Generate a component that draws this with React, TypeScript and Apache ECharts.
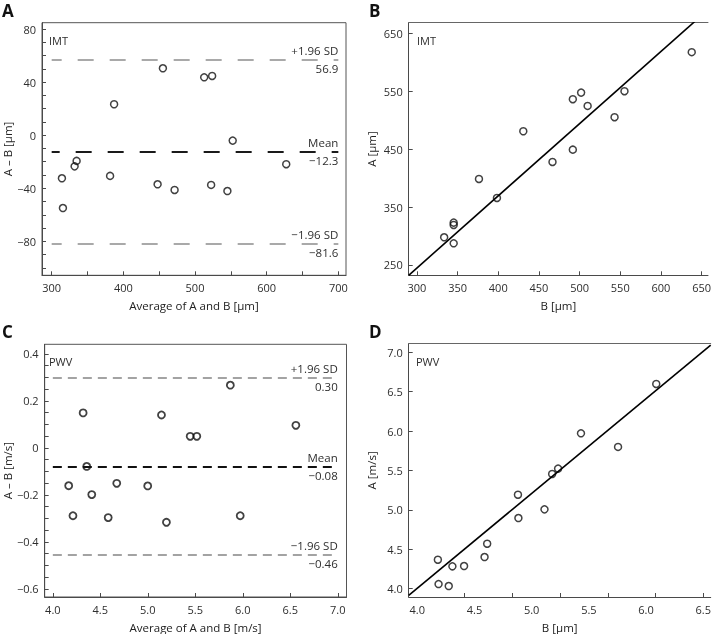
import { useEffect, useRef } from "react";
import * as echarts from "echarts";

// ---------- Panel A: IMT Bland–Altman ----------
const imtAvg = [314.3, 315.7, 332.0, 334.8, 381.5, 387.1, 447.8, 455.2, 471.5, 512.8, 523.9, 522.5, 545.2, 552.6, 627.3];
const imtDiff = [-32.5, -54.9, -23.5, -19.4, -30.7, 23.3, -37.0, 50.4, -41.3, 43.6, 44.6, -37.5, -42.1, -4.1, -21.9];
const imtLimitValues = [56.9, -12.3, -81.6];
const imtLimitLabels = ["56.9", "\u221212.3", "\u221281.6"];
const limitNames = ["+1.96 SD", "Mean", "\u22121.96 SD"];
const aXTicks = [300, 350, 400, 450, 500, 550, 600, 650, 700];
const aXLabels = [300, 400, 500, 600, 700];
const aYTicks = [-100, -90, -80, -70, -60, -50, -40, -30, -20, -10, 0, 10, 20, 30, 40, 50, 60, 70, 80];
const aYLabels = [-80, -40, 0, 40, 80];

// ---------- Panel B: IMT A vs B ----------
const imtB = [333.5, 345.2, 345.2, 345.2, 376.3, 398.4, 430.8, 466.7, 491.7, 491.7, 501.9, 509.9, 543.0, 555.2, 637.9];
const imtA = [297.8, 323.1, 319.1, 287.4, 398.5, 365.7, 480.9, 427.9, 536.2, 449.1, 547.6, 524.6, 505.1, 550.0, 617.4];
const imtFit = [1.2457, -128.9]; // slope, intercept
const bXTicks = [300, 350, 400, 450, 500, 550, 600, 650];
const bXLabels = [300, 350, 400, 450, 500, 550, 600, 650];
const bYTicks = [250, 350, 450, 550, 650];
const bYLabels = [250, 350, 450, 550, 650];

// ---------- Panel C: PWV Bland–Altman ----------
const pwvAvg = [4.167, 4.212, 4.319, 4.357, 4.41, 4.583, 4.673, 4.999, 5.144, 5.196, 5.446, 5.516, 5.869, 5.973, 6.559];
const pwvDiff = [-0.161, -0.289, 0.149, -0.079, -0.199, -0.297, -0.151, -0.162, 0.14, -0.317, 0.049, 0.049, 0.267, -0.289, 0.096];
const pwvLimitValues = [0.3, -0.08, -0.455];
const pwvLimitLabels = ["0.30", "\u22120.08", "\u22120.46"];
const cXTicks = [4.0, 4.5, 5.0, 5.5, 6.0, 6.5, 7.0];
const cXLabels = [4.0, 4.5, 5.0, 5.5, 6.0, 6.5, 7.0];
const cYTicks = [-0.6, -0.55, -0.5, -0.45, -0.4, -0.35, -0.3, -0.25, -0.2, -0.15, -0.1, -0.05, 0, 0.05, 0.1, 0.15, 0.2, 0.25, 0.3, 0.35, 0.4];
const cYLabels = [-0.6, -0.4, -0.2, 0, 0.2, 0.4];

// ---------- Panel D: PWV A vs B ----------
const pwvB = [4.18, 4.186, 4.275, 4.307, 4.409, 4.588, 4.611, 4.88, 4.884, 5.112, 5.179, 5.231, 5.431, 5.755, 6.089];
const pwvA = [4.368, 4.059, 4.034, 4.284, 4.288, 4.402, 4.571, 5.193, 4.897, 5.007, 5.456, 5.524, 5.972, 5.799, 6.598];
const pwvFit = [1.203, -0.806]; // slope, intercept
const dXTicks = [4.41, 4.83, 5.25, 5.67, 6.08, 6.5];
const dXLabels = [4.0, 4.5, 5.0, 5.5, 6.0, 6.5];
const dYTicks = [4.0, 4.5, 5.0, 5.5, 6.0, 6.5, 7.0];
const dYLabels = [4.0, 4.5, 5.0, 5.5, 6.0, 6.5, 7.0];

const FONT = '"Open Sans", "Noto Sans", sans-serif';
const TEXT = "#2e2e2e";
const AXIS = "#4a4a4a";

const minus = (s: string) => s.replace("-", "\u2212");

function xAx(gridIndex: number, min: number, max: number, ticks: number[], labels: number[], fmt: (v: number) => string, name: string) {
  return {
    type: "value",
    gridIndex,
    min,
    max,
    position: "bottom",
    name,
    nameLocation: "middle",
    nameGap: 24,
    nameTextStyle: { fontFamily: FONT, fontSize: 11.5, color: "#222" },
    axisLine: { show: true, onZero: false, lineStyle: { color: AXIS, width: 1 } },
    axisTick: { show: true, inside: true, length: 4, customValues: ticks, lineStyle: { color: AXIS, width: 1 } },
    axisLabel: { show: true, customValues: labels, formatter: fmt, fontFamily: FONT, fontSize: 11, color: TEXT, margin: 7 },
    splitLine: { show: false },
  };
}

function yAx(gridIndex: number, min: number, max: number, ticks: number[], labels: number[], fmt: (v: number) => string, name: string, nameGap: number) {
  return {
    type: "value",
    gridIndex,
    min,
    max,
    position: "left",
    name,
    nameLocation: "middle",
    nameGap,
    nameTextStyle: { fontFamily: FONT, fontSize: 11.5, color: "#222" },
    axisLine: { show: true, onZero: false, lineStyle: { color: AXIS, width: 1 } },
    axisTick: { show: true, inside: true, length: 4, customValues: ticks, lineStyle: { color: AXIS, width: 1 } },
    axisLabel: { show: true, customValues: labels, formatter: fmt, fontFamily: FONT, fontSize: 11, color: TEXT, margin: 6 },
    splitLine: { show: false },
  };
}

function topAx(gridIndex: number, min: number, max: number) {
  return {
    type: "value",
    gridIndex,
    min,
    max,
    position: "top",
    axisLine: { show: true, onZero: false, lineStyle: { color: "#666", width: 1 } },
    axisTick: { show: false },
    axisLabel: { show: false },
    splitLine: { show: false },
  };
}

const pointStyle = (w: number) => ({ color: "rgba(0,0,0,0)", borderColor: "#111", borderWidth: w });

function limitMarks(values: number[], labels: string[], x0: number, x1: number, styles: any[]) {
  const data: any[] = [];
  const lbl = { fontFamily: FONT, fontSize: 11.5, color: TEXT, distance: [0, 3] };
  values.forEach((v, i) => {
    data.push([
      { coord: [x0, v], lineStyle: styles[i], label: { show: true, position: "insideEndTop", formatter: limitNames[i], ...lbl } },
      { coord: [x1, v] },
    ]);
    data.push([
      { coord: [x0, v], lineStyle: { color: "rgba(0,0,0,0)", width: 0 }, label: { show: true, position: "insideEndBottom", formatter: labels[i], ...lbl } },
      { coord: [x1, v] },
    ]);
  });
  return { silent: true, symbol: ["none", "none"], animation: false, data };
}

function fitLine(fit: number[], x0: number, x1: number) {
  return [
    [x0, fit[0] * x0 + fit[1]],
    [x1, fit[0] * x1 + fit[1]],
  ];
}

export default function App() {
  const ref = useRef<HTMLDivElement>(null);
  useEffect(() => {
    if (!ref.current) return;
    const chart = echarts.init(ref.current, null, { renderer: "svg" });

    const A = { x: [286.5, 710.7], y: [-105.6, 84.75] };
    const B = { x: [289.9, 657.9], y: [232.2, 668.3] };
    const C = { x: [3.914, 7.092], y: [-0.635, 0.441] };
    const D = { x: [3.925, 6.565], y: [3.895, 7.109] };

    const f0 = (v: number) => minus(String(v));
    const f1 = (v: number) => minus(v.toFixed(1));

    const grayA = { color: "#a9a9a9", width: 2, type: [16, 16], dashOffset: 6 };
    const meanA = { color: "#1a1a1a", width: 2, type: [16, 16], dashOffset: 8 };
    const grayC = { color: "#a3a3a3", width: 2, type: [9, 6], dashOffset: 0 };
    const meanC = { color: "#111", width: 2.2, type: [9, 6], dashOffset: 0 };

    const letter = (text: string, x: number, y: number) => ({
      type: "text",
      x,
      y,
      style: { text, fontSize: 17, fontWeight: "bold", fill: "#111", fontFamily: FONT, verticalAlign: "middle", align: "left" },
    });
    const tag = (text: string, left: number, top: number) => ({
      type: "text",
      left,
      top,
      style: { text, fontSize: 11, fill: TEXT, fontFamily: FONT },
    });

    chart.setOption({
      animation: false,
      grid: [
        { left: 41, top: 22.7, width: 305, height: 252.6, show: true, borderColor: "#555", borderWidth: 1, containLabel: false },
        { left: 408.7, top: 22.7, width: 303.8, height: 252.6, containLabel: false },
        { left: 41, top: 344.3, width: 305.5, height: 252.7, show: true, borderColor: "#555", borderWidth: 1, containLabel: false },
        { left: 408.7, top: 343.7, width: 303.8, height: 253.3, containLabel: false },
      ],
      xAxis: [
        xAx(0, A.x[0], A.x[1], aXTicks, aXLabels, f0, "Average of A and B [\u00b5m]"),
        xAx(1, B.x[0], B.x[1], bXTicks, bXLabels, f0, "B [\u00b5m]"),
        xAx(2, C.x[0], C.x[1], cXTicks, cXLabels, f1, "Average of A and B [m/s]"),
        xAx(3, D.x[0], D.x[1], dXTicks, dXLabels, f1, "B [\u00b5m]"),
        topAx(1, B.x[0], B.x[1]),
        topAx(3, D.x[0], D.x[1]),
      ],
      yAxis: [
        yAx(0, A.y[0], A.y[1], aYTicks, aYLabels, f0, "A \u2013 B [\u00b5m]", 29),
        yAx(1, B.y[0], B.y[1], bYTicks, bYLabels, f0, "A [\u00b5m]", 31),
        yAx(2, C.y[0], C.y[1], cYTicks, cYLabels, f0, "A \u2013 B [m/s]", 29),
        yAx(3, D.y[0], D.y[1], dYTicks, dYLabels, f1, "A [m/s]", 31),
      ],
      graphic: [
        letter("A", 2, 10),
        letter("B", 369, 10),
        letter("C", 2, 331),
        letter("D", 369, 331),
        tag("IMT", 49, 35),
        tag("IMT", 417, 35),
        tag("PWV", 49, 356),
        tag("PWV", 416, 356),
      ],
      series: [
        {
          type: "scatter",
          xAxisIndex: 0,
          yAxisIndex: 0,
          symbol: "circle",
          symbolSize: 7,
          itemStyle: pointStyle(1.5),
          data: imtAvg.map((x, i) => [x, imtDiff[i]]),
          markLine: limitMarks(imtLimitValues, imtLimitLabels, aXLabels[0], aXLabels[aXLabels.length - 1], [grayA, meanA, grayA]),
          z: 3,
        },
        {
          type: "line",
          xAxisIndex: 1,
          yAxisIndex: 1,
          symbol: "none",
          clip: true,
          lineStyle: { color: "#000", width: 1.6 },
          data: fitLine(imtFit, B.x[0], B.x[1]),
        },
        {
          type: "scatter",
          xAxisIndex: 1,
          yAxisIndex: 1,
          symbol: "circle",
          symbolSize: 7,
          itemStyle: pointStyle(1.5),
          data: imtB.map((x, i) => [x, imtA[i]]),
        },
        {
          type: "scatter",
          xAxisIndex: 2,
          yAxisIndex: 2,
          symbol: "circle",
          symbolSize: 7,
          itemStyle: pointStyle(1.8),
          data: pwvAvg.map((x, i) => [x, pwvDiff[i]]),
          markLine: limitMarks(pwvLimitValues, pwvLimitLabels, cXLabels[0], cXLabels[cXLabels.length - 1], [grayC, meanC, grayC]),
          z: 3,
        },
        {
          type: "line",
          xAxisIndex: 3,
          yAxisIndex: 3,
          symbol: "none",
          clip: true,
          lineStyle: { color: "#000", width: 1.6 },
          data: fitLine(pwvFit, D.x[0], D.x[1]),
        },
        {
          type: "scatter",
          xAxisIndex: 3,
          yAxisIndex: 3,
          symbol: "circle",
          symbolSize: 7,
          itemStyle: pointStyle(1.5),
          data: pwvB.map((x, i) => [x, pwvA[i]]),
        },
      ],
    });
    return () => chart.dispose();
  }, []);
  return <div ref={ref} style={{ position: "fixed", left: 0, top: 0, width: 714, height: 634 }} />;
}
